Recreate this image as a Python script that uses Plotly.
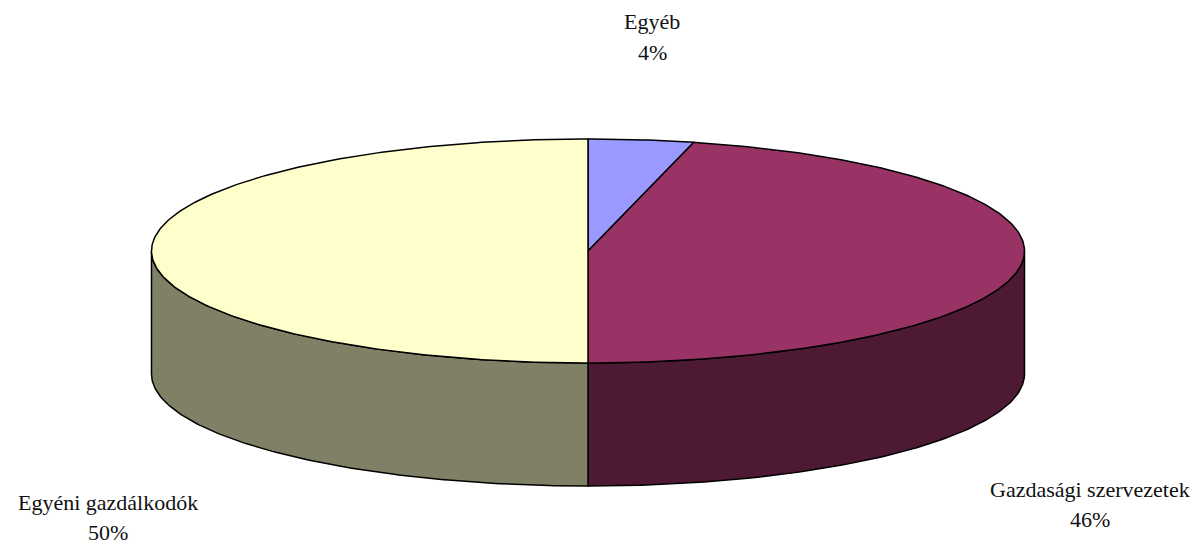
import numpy as np
import plotly.graph_objects as go

categories = ["Egyéb", "Gazdasági szervezetek", "Egyéni gazdálkodók"]
shares = [3.9, 46.1, 50]
share_labels = ["4%", "46%", "50%"]
top_colors = ["#9999FF", "#993366", "#FFFFCC"]
side_colors = ["#4D4D80", "#4D1933", "#808066"]
name_pos = [(652, 21), (1090, 489), (108, 502)]
pct_pos = [(652, 52), (1090, 519), (108, 532)]

CX, CY, RX, RY, DEPTH = 588, 251, 436.5, 112, 123
W, H = 1198, 546


def rim(a, b, dy=0):
    t = np.linspace(a, b, max(3, int(abs(b - a) * 90)))
    return CX + RX * np.sin(t), CY - RY * np.cos(t) + dy


fig = go.Figure()
line = dict(color="black", width=1.5)
edges = np.cumsum([0] + shares) / sum(shares) * 2 * np.pi

# side walls: only the front half of the rim (pi/2 .. 3pi/2) is visible
for i in range(len(shares)):
    a, b = max(edges[i], np.pi / 2), min(edges[i + 1], 3 * np.pi / 2)
    if b <= a:
        continue
    x1, y1 = rim(a, b)
    x2, y2 = rim(a, b, DEPTH)
    fig.add_trace(go.Scatter(
        x=np.r_[x1, x2[::-1], x1[0]], y=np.r_[y1, y2[::-1], y1[0]],
        mode="lines", fill="toself", fillcolor=side_colors[i], line=line, hoverinfo="skip"))

# top faces
for i in range(len(shares)):
    x, y = rim(edges[i], edges[i + 1])
    fig.add_trace(go.Scatter(
        x=np.r_[CX, x, CX], y=np.r_[CY, y, CY],
        mode="lines", fill="toself", fillcolor=top_colors[i], line=line, hoverinfo="skip"))

font = dict(family="Liberation Serif", size=22, color="#111111")
for texts, positions in ((categories, name_pos), (share_labels, pct_pos)):
    for txt, (lx, ly) in zip(texts, positions):
        fig.add_annotation(x=lx, y=ly, text=txt, showarrow=False, font=font,
                           xanchor="center", yanchor="middle")

fig.update_layout(
    width=W, height=H, showlegend=False, paper_bgcolor="white", plot_bgcolor="white",
    margin=dict(l=0, r=0, t=0, b=0),
    xaxis=dict(range=[0, W], visible=False, fixedrange=True),
    yaxis=dict(range=[H, 0], visible=False, fixedrange=True),
)
fig.write_html("out.html", config={"displayModeBar": False},
               post_script="document.body.style.margin='0';")
